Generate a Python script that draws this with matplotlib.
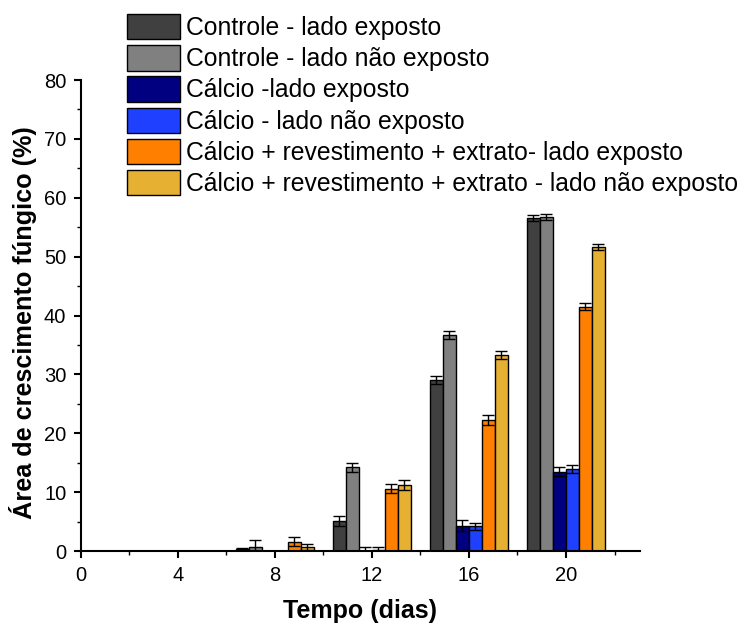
import numpy as np
import matplotlib.pyplot as plt
from matplotlib.ticker import MultipleLocator

plt.rcParams['font.family'] = ['Liberation Sans', 'DejaVu Sans']

dias = [0, 4, 8, 12, 16, 20]
series = [
    "Controle - lado exposto",
    "Controle - lado não exposto",
    "Cálcio -lado exposto",
    "Cálcio - lado não exposto",
    "Cálcio + revestimento + extrato- lado exposto",
    "Cálcio + revestimento + extrato - lado não exposto",
]
cores = ["#404040", "#808080", "#000080", "#2040ff", "#ff8000", "#e6b033"]

valores = [
    [0, 0, 0.3, 5.1, 29.0, 56.6],
    [0, 0, 0.7, 14.2, 36.7, 56.8],
    [0, 0, 0, -0.3, 4.3, 13.5],
    [0, 0, 0, 0.2, 4.2, 13.9],
    [0, 0, 1.6, 10.6, 22.3, 41.5],
    [0, 0, 0.7, 11.2, 33.3, 51.6],
]
erros = [
    [0, 0, 0.2, 0.8, 0.7, 0.5],
    [0, 0, 1.1, 0.8, 0.7, 0.5],
    [0, 0, 0, 1.0, 0.9, 0.8],
    [0, 0, 0, 0.5, 0.6, 0.7],
    [0, 0, 0.7, 0.7, 0.85, 0.6],
    [0, 0, 0.55, 0.8, 0.65, 0.5],
]

fig = plt.figure(figsize=(7.42, 6.27), dpi=100)
ax = fig.add_axes([0.109, 0.1212, 0.7535, 0.7512])

largura = 0.536
x = np.array(dias, dtype=float)
for i in range(6):
    pos = x + (i - 2.5) * largura
    ax.bar(pos, valores[i], width=largura, color=cores[i], edgecolor="black",
           linewidth=1, label=series[i])
    ax.errorbar(pos, valores[i], yerr=erros[i], fmt="none", ecolor="black",
                elinewidth=1, capsize=4.3, capthick=1)

ax.set_xlim(0, 23.05)
ax.set_ylim(0, 80)
ax.set_xticks(dias)
ax.xaxis.set_minor_locator(MultipleLocator(2))
ax.yaxis.set_major_locator(MultipleLocator(10))
ax.yaxis.set_minor_locator(MultipleLocator(5))
ax.spines['top'].set_visible(False)
ax.spines['right'].set_visible(False)
ax.spines['left'].set_linewidth(1.5)
ax.spines['bottom'].set_linewidth(1.5)
ax.tick_params(which='major', direction='out', length=5, width=1.5, labelsize=14.5)
ax.tick_params(which='minor', direction='out', length=3, width=1)
ax.tick_params(axis='x', which='major', pad=6)
ax.tick_params(axis='y', which='major', pad=5.5)

ax.set_xlabel("Tempo (dias)", fontsize=18, fontweight='bold', labelpad=10)
ax.set_ylabel("Área de crescimento fúngico (%)", fontsize=18.2, fontweight='bold')
ax.yaxis.set_label_coords(-0.078, 0.485)

ax.legend(loc='upper left', bbox_to_anchor=(127 / 742, 1 - 14 / 627),
          bbox_transform=fig.transFigure, frameon=False,
          fontsize=17.8, handlelength=2.15, handleheight=1.2, labelspacing=0.21,
          handletextpad=0.25, borderaxespad=0, borderpad=0)

fig.savefig("out.png", dpi=100)
